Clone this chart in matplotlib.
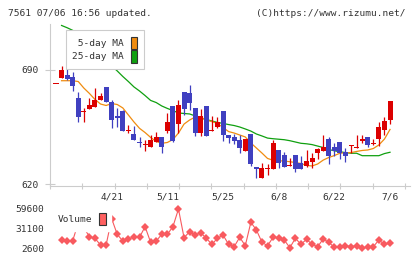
import matplotlib
matplotlib.use("Agg")
import matplotlib.pyplot as plt
import matplotlib.transforms as mtransforms
from matplotlib.patches import Patch
import numpy as np

# ---------------- data ----------------
opens = [681.8, 685.3, 686.9, 685.9, 672.6, 664.3, 666.2, 667.5, 671.6, 679.8,
         670.5, 661.8, 664.8, 652.9, 650.7, 646.0, 643.8, 642.5, 645.6, 648.7,
         652.7, 667.9, 656.7, 676.3, 675.9, 666.5, 651.5, 667.9, 652.7, 655.2,
         664.8, 650.1, 649.1, 647.0, 640.5, 650.7, 630.3, 623.5, 629.4, 629.2,
         640.9, 637.8, 631.2, 637.8, 632.7, 631.0, 633.3, 639.2, 640.5, 647.6,
         642.5, 645.8, 639.5, 643.6, 642.3, 646.2, 648.8, 644.8, 647.4, 653.2,
         659.3]
highs = [681.8, 692.6, 692.6, 688.8, 676.5, 666.5, 672.6, 678.8, 675.7, 679.8,
         671.6, 666.5, 665.5, 656.2, 655.6, 649.1, 647.0, 650.0, 652.1, 648.7,
         663.8, 668.0, 671.6, 676.5, 680.8, 666.5, 665.9, 667.9, 661.8, 661.0,
         664.8, 650.1, 650.5, 650.0, 647.6, 650.7, 630.3, 632.7, 632.3, 647.0,
         640.9, 639.6, 635.8, 637.8, 637.4, 640.9, 639.2, 642.4, 650.1, 648.8,
         645.0, 645.8, 641.9, 643.9, 650.1, 650.1, 648.8, 647.6, 657.9, 661.3,
         671.0]
lows = [681.8, 685.3, 683.9, 677.3, 657.9, 658.3, 666.0, 667.0, 671.3, 670.5,
        654.6, 655.2, 652.5, 651.1, 647.0, 642.5, 640.5, 642.5, 645.6, 639.2,
        651.1, 645.5, 651.5, 662.4, 665.4, 649.7, 649.5, 649.5, 652.7, 654.2,
        646.6, 645.4, 644.8, 639.2, 640.5, 631.0, 623.5, 623.5, 625.5, 629.2,
        629.6, 630.7, 631.0, 627.6, 629.2, 630.5, 629.6, 635.3, 640.5, 632.5,
        637.4, 635.6, 633.7, 638.8, 642.0, 645.0, 642.5, 644.0, 643.3, 649.9,
        656.7]
closes = [681.8, 690.0, 684.3, 680.4, 661.3, 664.8, 668.5, 671.6, 674.2, 670.5,
          659.3, 660.3, 652.7, 653.3, 647.0, 645.0, 644.2, 647.0, 648.7, 642.5,
          658.3, 646.6, 668.5, 665.9, 669.5, 651.5, 661.8, 649.5, 653.2, 658.3,
          650.3, 648.4, 646.6, 642.3, 647.6, 632.3, 629.1, 629.6, 629.8, 645.2,
          632.7, 630.7, 631.6, 629.4, 629.2, 634.1, 636.2, 641.3, 642.5, 637.4,
          640.5, 638.8, 637.4, 643.9, 642.6, 647.6, 643.9, 645.2, 655.0, 658.7,
          671.0]
ma5 = [683.4, 683.4, 683.4, 682.9, 678.9, 675.6, 671.9, 669.1, 668.2, 669.4,
       668.8, 666.7, 662.4, 658.1, 654.2, 651.6, 648.6, 646.1, 645.0, 645.5,
       647.3, 651.3, 656.8, 659.3, 661.1, 661.0, 659.3, 658.3, 657.2, 654.7,
       652.2, 651.3, 650.1, 648.9, 645.2, 642.1, 639.0, 635.7, 634.6, 634.3,
       634.1, 633.7, 633.2, 632.6, 631.4, 631.1, 632.3, 634.7, 636.3, 637.5,
       638.9, 639.2, 639.3, 640.0, 640.6, 640.9, 641.8, 644.0, 647.6, 653.5]
ma25 = [717.3, 715.9, 714.3, 712.1, 709.6, 706.6, 703.5, 699.8, 696.1, 692.5,
        689.4, 686.0, 682.9, 679.6, 677.1, 674.3, 671.3, 670.0, 667.9, 666.4,
        665.1, 663.6, 663.3, 663.0, 661.8, 660.5, 659.6, 658.7, 657.8, 657.2,
        656.5, 655.9, 655.0, 653.8, 652.5, 650.7, 649.5, 648.2, 647.8, 647.5,
        647.2, 646.6, 645.8, 645.0, 644.7, 644.2, 643.3, 642.4, 641.2, 640.4,
        639.8, 639.3, 638.9, 638.9, 637.4, 637.4, 637.4, 637.4, 638.7, 639.5]
volume = [np.nan, 15400, 14400, 14400, 40000, 33000, 20100, 17800, 8300, 8300,
          45800, 23500, 14000, 16400, 20100, 19300, 34400, 12100, 14000, 23500,
          23500, 34400, 59600, 18700, 27300, 22600, 25800, 17800, 9300, 17800,
          22600, 9300, 5900, 19300, 7300, 40600, 29700, 12100, 7300, 19300,
          18700, 15400, 4500, 17800, 9300, 16400, 9300, 5900, 16900, 12100,
          5000, 5900, 7300, 5900, 7300, 3600, 5900, 5900, 15400, 9300,
          10700]
date_labels = ["4/21", "5/11", "5/25", "6/8", "6/22", "7/6"]
date_label_idx = [10, 20, 30, 40, 50, 60]
price_ticks = [620, 690]
volume_ticks = [2600, 31100, 59600]

# ---------------- style ----------------
W, H = 420, 259
RED = "#dc0000"
BLUE = "#4040c0"
ORANGE = "#f08c10"
GREEN = "#10a010"
VOLC = "#f85a5f"
GRAY = "#cccccc"
TXT = "#333333"
FONT = "DejaVu Sans Mono"
FS = 6.8
plt.rcParams["font.family"] = FONT


def fx(px):
    return px / W


def fy(py):
    return 1 - py / H


fig = plt.figure(figsize=(W / 100, H / 100), dpi=100)
ax = fig.add_axes([fx(50), fy(186), 360 / W, 162 / H])
axv = fig.add_axes([fx(50), fy(256), 360 / W, 53 / H])

n = len(opens)
idx = np.arange(n)
o = np.array(opens)
c = np.array(closes)
hi = np.array(highs)
lo = np.array(lows)
cols = [RED if cc >= oo else BLUE for oo, cc in zip(o, c)]

# moving averages (behind candles)
ax.plot(idx[1:], ma25, color=GREEN, lw=0.9, zorder=1)
ax.plot(idx[1:], ma5, color=ORANGE, lw=0.9, zorder=1)

# candles
ax.vlines(idx, lo, hi, colors=cols, lw=0.9, zorder=2)
minh = 0.65
body_h = np.maximum(np.abs(c - o), minh)
body_b = np.minimum(o, c) - (body_h - np.abs(c - o)) / 2
ax.bar(idx, body_h, bottom=body_b, width=0.9, color=cols, lw=0, zorder=3)

xmin = (50 - 56) / 5.567
xmax = (410 - 56) / 5.567
ax.set_xlim(xmin, xmax)
ax.set_ylim(618.8, 718.2)
for s in ["top", "right"]:
    ax.spines[s].set_visible(False)
for s in ["left", "bottom"]:
    ax.spines[s].set_color(GRAY)
    ax.spines[s].set_linewidth(0.8)
ax.set_yticks(price_ticks)
ax.set_yticklabels([str(t) for t in price_ticks])
ax.tick_params(axis="y", direction="inout", length=7.9, width=0.8, color=GRAY,
               pad=3.9, labelsize=FS, labelcolor=TXT)
grid_x = [xmin + k * 32.27 / 5.567 for k in range(12)]
ax.set_xticks(grid_x)
ax.set_xticklabels([])
ax.tick_params(axis="x", direction="inout", length=5, width=0.8, color=GRAY)

# date labels
trans = mtransforms.blended_transform_factory(ax.transData, fig.transFigure)
for i, lab in zip(date_label_idx, date_labels):
    ax.text(i, fy(197), lab, transform=trans, ha="center", va="center",
            fontsize=FS, color=TXT, clip_on=False)

# price legend
handles = [Patch(facecolor=ORANGE, edgecolor="#333333", lw=0.8),
           Patch(facecolor=GREEN, edgecolor="#333333", lw=0.8)]
leg = ax.legend(handles, [" 5-day MA", "25-day MA"], loc="upper left",
                bbox_to_anchor=(fx(65.7), fy(30)), bbox_transform=fig.transFigure,
                borderaxespad=0, markerfirst=False, fontsize=FS,
                handlelength=0.72, handleheight=1.65, handletextpad=0.7,
                labelspacing=0.12, borderpad=0.7, fancybox=False,
                framealpha=1, edgecolor=GRAY, facecolor="white")
leg.get_frame().set_linewidth(0.8)
for t in leg.get_texts():
    t.set_color(TXT)

# volume
axv.plot(idx, volume, color=VOLC, lw=0.8, marker="D", ms=3.6,
         markeredgewidth=0, zorder=2)
axv.set_xlim(xmin, xmax)
axv.set_ylim(-7375, 68150)
for s in axv.spines.values():
    s.set_visible(False)
axv.set_xticks([])
axv.set_yticks(volume_ticks)
axv.set_yticklabels([str(t) for t in volume_ticks])
axv.tick_params(axis="y", length=0, pad=4.3, labelsize=FS, labelcolor=TXT)
vleg = axv.legend([Patch(facecolor="#ff6060", edgecolor="#333333", lw=0.8)],
                  ["Volume"], loc="upper left",
                  bbox_to_anchor=(fx(52), fy(207)), bbox_transform=fig.transFigure,
                  borderaxespad=0, markerfirst=False, fontsize=FS,
                  handlelength=0.7, handleheight=1.58, handletextpad=0.7,
                  borderpad=0.62, fancybox=False, framealpha=1,
                  edgecolor="white", facecolor="white")
vleg.set_zorder(5)
for t in vleg.get_texts():
    t.set_color(TXT)

# header texts
fig.text(fx(8), fy(13), "7561 07/06 16:56 updated.", ha="left", va="center",
         fontsize=FS, color=TXT)
fig.text(fx(406), fy(13), "(C)https://www.rizumu.net/", ha="right", va="center",
         fontsize=FS, color=TXT)

fig.savefig("out.png", dpi=100, facecolor="white")
